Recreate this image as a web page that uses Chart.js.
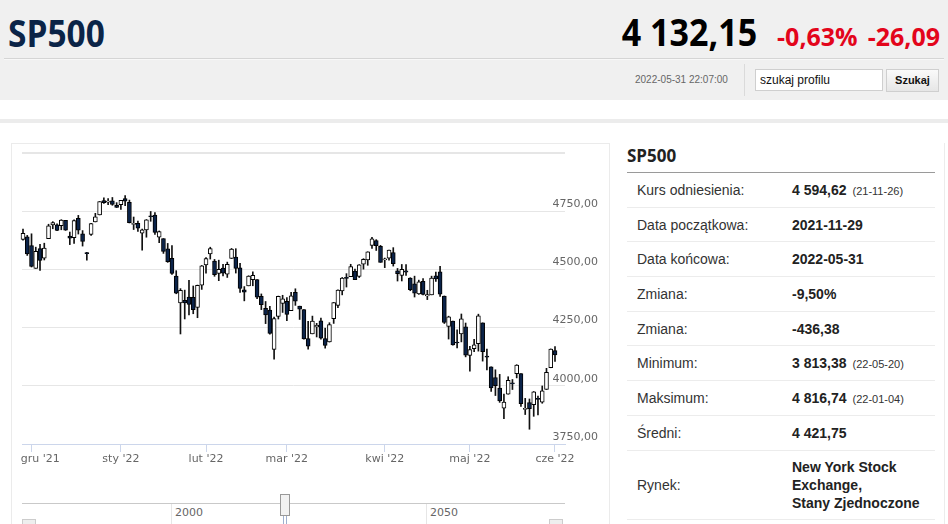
<!DOCTYPE html>
<html lang="pl">
<head>
<meta charset="utf-8">
<script src="https://cdn.jsdelivr.net/npm/chart.js@4.4.1/dist/chart.umd.min.js"></script>
<style>
  html, body { margin: 0; padding: 0; }
  body { width: 948px; height: 524px; overflow: hidden; position: relative; background: #fff;
         font-family: "Liberation Sans", Arial, sans-serif; }
  .abs { position: absolute; }
  #top { left: 0; top: 0; width: 948px; height: 100px; background: #f0f0f0; }
  #name { left: 8px; top: 6px; font: bold 38px "Open Sans", sans-serif; color: #0b2447;
          transform: scaleX(0.88); transform-origin: left center; white-space: nowrap; }
  #quote { right: 8px; top: 6px; white-space: nowrap; height: 50px; }
  #quote span { display: inline-block; font-family: "Open Sans", sans-serif; font-weight: bold; vertical-align: baseline; }
  #price { font-size: 37px; color: #000; transform: scaleX(0.92); transform-origin: right center; margin-right: 10px; }
  .red { color: #e3051b; font-size: 25px; margin-left: 10px; }
  #hline { left: 4px; top: 58px; width: 940px; height: 1px; background: #d5d5d5; border-bottom: 1px solid #f8f8f8; }
  #stamp { left: 635px; top: 74px; font-size: 10px; color: #666; }
  #vsep { left: 744px; top: 64px; width: 1px; height: 32px; background: #dadada; }
  #search { left: 755px; top: 69px; width: 122px; height: 20px; background: #fff; border: 1px solid #cfcfcf;
            font-size: 12px; line-height: 20px; padding-left: 4px; color: #111; box-sizing: content-box; }
  #btn { left: 886px; top: 69px; width: 51px; height: 21px; border: 1px solid #cfcfcf;
         background: linear-gradient(#fafafa, #e6e6e6); font-size: 11px; font-weight: bold; line-height: 21px;
         text-align: center; color: #111; }
  #band { left: 0; top: 119px; width: 948px; height: 4px; background: #ececec; }
  #box { left: 11px; top: 143px; width: 597px; height: 400px; border: 1px solid #ebebeb; }
  #wrap { left: 12px; top: 150px; width: 596px; height: 320px; }
  #navline { left: 22px; top: 503px; width: 543px; height: 1px; background: #c9c9c9; }
  .navv { top: 504px; width: 1px; height: 20px; background: #e6e6e6; }
  .navlab { top: 506px; font: 11px "DejaVu Sans", sans-serif; color: #666; }
  #handleL { left: 283px; top: 494px; width: 1px; height: 30px; background: #9fb0cf; }
  #handleR { left: 286px; top: 494px; width: 1px; height: 30px; background: #9fb0cf; }
  #grip { left: 280px; top: 494px; width: 8px; height: 20px; background: #f2f2f2; border: 1px solid #999; }
  .scr { top: 519px; width: 12px; height: 8px; background: #eee; border: 1px solid #ccc; }
  #side { left: 612px; top: 143px; width: 332px; height: 400px; border-right: 1px solid #ececec; }
  #sideTitle { left: 627px; top: 144px; font: bold 17px "Open Sans", sans-serif; color: #222; }
  #sideLine { left: 627px; top: 172px; width: 308px; height: 1px; background: #9a9a9a; }
  #tbl { left: 627px; top: 173px; width: 308px; border-collapse: collapse; }
  #tbl td { border-bottom: 1px solid #ececec; height: 33.7px; padding: 0; font-size: 14px; color: #333; vertical-align: middle; }
  #tbl td.l { padding-left: 10px; width: 155px; }
  #tbl td.v { font-weight: bold; color: #222; }
  #tbl td.v small { font-weight: normal; font-size: 11px; color: #333; margin-left: 6px; }
  #tbl tr.tall td { height: 68px; line-height: 18px; }
</style>
</head>
<body>
<div id="top" class="abs"></div>
<div id="name" class="abs">SP500</div>
<div id="quote" class="abs"><span id="price">4 132,15</span><span class="red">-0,63%</span><span class="red">-26,09</span></div>
<div id="hline" class="abs"></div>
<div id="stamp" class="abs">2022-05-31 22:07:00</div>
<div id="vsep" class="abs"></div>
<div id="search" class="abs">szukaj profilu</div>
<div id="btn" class="abs">Szukaj</div>
<div id="band" class="abs"></div>

<div id="box" class="abs"></div>
<div id="wrap" class="abs"><canvas id="sp500Chart" width="596" height="320"></canvas></div>

<div id="navline" class="abs"></div>
<div class="abs navv" style="left:171px"></div>
<div class="abs navv" style="left:426px"></div>
<div class="abs navlab" style="left:175px">2000</div>
<div class="abs navlab" style="left:430px">2050</div>
<div id="handleL" class="abs"></div>
<div id="handleR" class="abs"></div>
<div id="grip" class="abs"></div>
<div class="abs scr" style="left:22px"></div>
<div class="abs scr" style="left:549px"></div>

<div id="side" class="abs"></div>
<div id="sideTitle" class="abs">SP500</div>
<div id="sideLine" class="abs"></div>
<table id="tbl" class="abs">
  <tr><td class="l">Kurs odniesienia:</td><td class="v">4 594,62<small>(21-11-26)</small></td></tr>
  <tr><td class="l">Data początkowa:</td><td class="v">2021-11-29</td></tr>
  <tr><td class="l">Data końcowa:</td><td class="v">2022-05-31</td></tr>
  <tr><td class="l">Zmiana:</td><td class="v">-9,50%</td></tr>
  <tr><td class="l">Zmiana:</td><td class="v">-436,38</td></tr>
  <tr><td class="l">Minimum:</td><td class="v">3 813,38<small>(22-05-20)</small></td></tr>
  <tr><td class="l">Maksimum:</td><td class="v">4 816,74<small>(22-01-04)</small></td></tr>
  <tr><td class="l">Średni:</td><td class="v">4 421,75</td></tr>
  <tr class="tall"><td class="l">Rynek:</td><td class="v">New York Stock<br>Exchange,<br>Stany Zjednoczone</td></tr>
</table>

<script>
// sesje (jedna świeca = jedna sesja)
const dates = [
  '2021-11-29','2021-11-30',
  '2021-12-01','2021-12-02','2021-12-03','2021-12-06','2021-12-07','2021-12-08','2021-12-09','2021-12-10',
  '2021-12-13','2021-12-14','2021-12-15','2021-12-16','2021-12-17','2021-12-20','2021-12-22','2021-12-23',
  '2021-12-27','2021-12-28','2021-12-29','2021-12-30','2021-12-31',
  '2022-01-03','2022-01-04','2022-01-05','2022-01-06','2022-01-07','2022-01-10','2022-01-11','2022-01-12',
  '2022-01-13','2022-01-14','2022-01-18','2022-01-19','2022-01-20','2022-01-21','2022-01-24','2022-01-25',
  '2022-01-26','2022-01-27','2022-01-28','2022-01-31',
  '2022-02-01','2022-02-02','2022-02-03','2022-02-04','2022-02-07','2022-02-08','2022-02-09','2022-02-10',
  '2022-02-11','2022-02-14','2022-02-15','2022-02-16','2022-02-17','2022-02-18','2022-02-22','2022-02-23',
  '2022-02-24','2022-02-25','2022-02-28',
  '2022-03-01','2022-03-02','2022-03-03','2022-03-04','2022-03-07','2022-03-08','2022-03-09','2022-03-10',
  '2022-03-11','2022-03-14','2022-03-15','2022-03-16','2022-03-17','2022-03-18','2022-03-21','2022-03-22',
  '2022-03-23','2022-03-24','2022-03-25','2022-03-28','2022-03-29','2022-03-30','2022-03-31',
  '2022-04-01','2022-04-04','2022-04-05','2022-04-06','2022-04-07','2022-04-08','2022-04-11','2022-04-12',
  '2022-04-13','2022-04-14','2022-04-18','2022-04-19','2022-04-20','2022-04-21','2022-04-22','2022-04-25',
  '2022-04-26','2022-04-27','2022-04-28','2022-04-29',
  '2022-05-02','2022-05-03','2022-05-04','2022-05-05','2022-05-06','2022-05-09','2022-05-10','2022-05-11',
  '2022-05-12','2022-05-13','2022-05-16','2022-05-17','2022-05-18','2022-05-19','2022-05-20','2022-05-23',
  '2022-05-24','2022-05-25','2022-05-26','2022-05-27','2022-05-31'
];
const open = [
  4628.75,4640.25,
  4602.82,4504.73,4589.49,4548.37,4631.97,4690.86,4691.00,4687.64,
  4710.30,4642.99,4636.46,4719.13,4652.50,4572.00,4650.36,4703.96,
  4733.99,4795.49,4788.64,4794.23,4775.21,
  4778.14,4804.51,4787.99,4693.39,4697.66,4655.34,4669.14,4728.59,
  4733.56,4637.99,4632.24,4588.03,4547.35,4471.38,4356.32,4366.64,
  4380.58,4380.50,4336.19,4431.79,
  4519.57,4566.39,4535.41,4482.79,4505.75,4480.02,4547.00,4553.24,
  4506.27,4412.61,4429.28,4455.75,4456.06,4384.57,4332.74,4324.93,
  4155.77,4298.38,4354.17,
  4363.14,4322.56,4401.31,4342.12,4327.01,4202.66,4223.10,4252.55,
  4279.50,4202.75,4188.82,4288.14,4345.11,4407.34,4462.40,4469.10,
  4493.10,4469.98,4522.91,4541.09,4602.86,4624.20,4599.02,
  4540.32,4547.97,4572.45,4494.17,4474.65,4494.15,4462.64,4437.59,
  4394.30,4449.12,4385.63,4390.63,4472.26,4489.17,4385.83,4255.34,
  4278.14,4186.52,4222.58,4253.75,
  4130.61,4159.78,4181.18,4270.43,4128.17,4081.27,4035.18,3990.08,
  3903.95,3963.90,4013.02,4052.00,4051.98,3899.00,3927.76,3919.42,
  3942.94,3929.59,3984.60,4077.43,4151.09
];
const high = [
  4672.95,4646.02,
  4652.94,4595.46,4608.03,4612.60,4694.04,4705.06,4695.26,4713.57,
  4710.30,4660.47,4712.60,4731.99,4666.70,4573.50,4697.67,4740.74,
  4791.49,4807.02,4804.06,4808.93,4786.83,
  4796.64,4816.74,4797.70,4725.01,4707.95,4673.02,4714.13,4748.83,
  4744.13,4665.13,4632.24,4611.55,4602.11,4494.52,4417.35,4411.01,
  4453.23,4428.74,4432.72,4516.89,
  4550.49,4595.31,4542.88,4539.66,4521.86,4531.32,4590.03,4588.92,
  4526.33,4426.22,4472.77,4489.55,4456.06,4394.60,4362.12,4341.51,
  4294.73,4385.34,4388.84,
  4378.45,4401.48,4416.78,4342.12,4327.01,4276.94,4299.40,4268.28,
  4291.01,4247.57,4271.05,4357.86,4412.67,4465.40,4481.75,4522.00,
  4501.07,4520.58,4546.03,4575.65,4637.30,4627.77,4603.07,
  4548.70,4583.50,4593.45,4503.94,4521.16,4520.41,4464.35,4471.00,
  4453.92,4460.46,4410.31,4471.03,4488.29,4512.94,4385.83,4299.02,
  4278.14,4240.71,4308.45,4269.68,
  4169.81,4200.10,4307.66,4270.43,4157.69,4081.27,4068.82,4049.09,
  3964.80,4038.88,4026.97,4090.72,4051.98,3945.96,3943.42,3975.45,
  3955.68,3999.33,4075.14,4158.49,4168.34
];
const low = [
  4625.26,4560.00,
  4510.27,4504.73,4495.12,4540.51,4631.97,4674.52,4665.98,4670.24,
  4667.60,4606.52,4611.22,4651.89,4600.22,4540.00,4645.53,4703.96,
  4733.99,4782.94,4778.08,4775.33,4765.75,
  4758.17,4774.27,4699.44,4671.26,4662.74,4582.24,4638.27,4706.71,
  4650.29,4614.75,4568.70,4530.20,4477.95,4395.34,4222.62,4287.11,
  4304.80,4309.50,4292.46,4414.02,
  4483.53,4544.32,4470.39,4451.50,4471.47,4465.40,4547.00,4484.31,
  4401.41,4364.84,4429.28,4429.68,4373.81,4327.22,4267.11,4221.51,
  4114.65,4286.83,4315.12,
  4279.54,4322.56,4345.56,4284.98,4199.85,4157.87,4223.10,4209.80,
  4200.49,4161.72,4187.90,4267.92,4335.65,4390.57,4424.30,4469.10,
  4455.81,4465.17,4501.07,4517.69,4589.66,4581.32,4530.41,
  4507.57,4539.21,4514.17,4450.04,4450.30,4474.60,4408.38,4381.34,
  4392.70,4390.77,4370.30,4390.63,4448.76,4384.47,4267.62,4200.82,
  4175.04,4162.90,4188.63,4124.28,
  4062.51,4147.08,4148.91,4106.01,4067.91,3975.48,3958.17,3928.82,
  3858.87,3963.90,3983.99,4033.93,3911.91,3876.58,3813.38,3868.91,
  3875.13,3925.03,3984.60,4077.43,4104.88
];
const close = [
  4655.27,4567.00,
  4513.04,4577.10,4538.43,4591.67,4686.75,4701.21,4667.45,4712.02,
  4668.97,4634.09,4709.85,4668.67,4620.64,4568.02,4696.56,4725.79,
  4791.19,4786.35,4793.06,4778.73,4766.18,
  4796.56,4793.54,4700.58,4696.05,4677.03,4670.29,4713.07,4726.35,
  4659.03,4662.85,4577.11,4532.76,4482.73,4397.94,4410.13,4356.45,
  4349.93,4326.51,4431.85,4515.55,
  4546.54,4589.38,4477.44,4500.53,4483.87,4521.54,4587.18,4504.08,
  4418.64,4401.67,4471.07,4475.01,4380.26,4348.87,4304.76,4225.50,
  4288.70,4384.65,4373.94,
  4306.26,4386.54,4363.49,4328.87,4201.09,4170.70,4277.88,4259.52,
  4204.31,4173.11,4262.45,4357.86,4411.67,4463.12,4461.18,4511.61,
  4456.24,4520.16,4543.06,4575.52,4631.60,4602.45,4530.41,
  4545.86,4582.64,4525.12,4481.15,4500.21,4488.28,4412.53,4397.45,
  4446.59,4392.59,4391.69,4462.21,4459.45,4393.66,4271.78,4296.12,
  4175.20,4183.96,4287.50,4131.93,
  4155.38,4175.48,4300.17,4146.87,4123.34,3991.24,4001.05,3935.18,
  3930.08,4023.89,4008.01,4088.85,3923.68,3900.79,3901.36,3973.75,
  3941.48,3978.73,4057.84,4158.24,4132.15
];

// podpisy osi
const monthLabels = ["gru '21", "sty '22", "lut '22", "mar '22", "kwi '22", "maj '22", "cze '22"];
const yTicks = [3750, 4000, 4250, 4500, 4750, 5000];

// indeksy pierwszej sesji miesiąca (+ ostatnia sesja dla czerwca)
const monthIdx = [];
for (let i = 1; i < dates.length; i++) {
    if (dates[i].slice(5, 7) !== dates[i - 1].slice(5, 7)) monthIdx.push(i);
}
monthIdx.push(dates.length - 1);

const navy = '#0b2349';

const bodies = dates.map((d, i) => ({ x: i, y: [open[i], close[i]] }));
const wicks = dates.map((d, i) => ({ x: i, y: [low[i], high[i]] }));

const ctx = document.getElementById('sp500Chart').getContext('2d');
window.spChart = new Chart(ctx, {
    type: 'bar',
    data: {
        datasets: [{
            label: 'korpus',
            data: bodies,
            grouped: false,
            barThickness: 4,
            minBarLength: 1,
            borderWidth: 1,
            borderColor: '#000',
            borderSkipped: false,
            backgroundColor: (c) => close[c.dataIndex] < open[c.dataIndex] ? navy : '#ffffff',
            clip: false
        }, {
            label: 'cień',
            data: wicks,
            grouped: false,
            barThickness: 1,
            borderWidth: 0,
            backgroundColor: '#111',
            clip: false
        }]
    },
    options: {
        responsive: false,
        animation: false,
        layout: { padding: { left: 10, right: 10, top: 3, bottom: 0 } },
        plugins: { legend: { display: false }, tooltip: { enabled: false } },
        scales: {
            x: {
                type: 'linear',
                offset: false,
                min: -0.235,
                max: 127.35,
                afterBuildTicks: (scale) => { scale.ticks = monthIdx.map(v => ({ value: v })); },
                afterFit: (scale) => { scale.height = 26; scale.paddingLeft = 0; scale.paddingRight = 0; },
                ticks: {
                    autoSkip: false,
                    maxRotation: 0,
                    padding: 1,
                    color: '#666',
                    font: { family: 'DejaVu Sans', size: 11 },
                    callback: (v) => {
                        const k = monthIdx.indexOf(v);
                        if (k < 0) return '';
                        return k === 0 ? '     ' + monthLabels[k] : monthLabels[k];
                    }
                },
                grid: { offset: false, drawOnChartArea: false, tickLength: 8, tickColor: '#ccd6eb' },
                border: { color: '#ccd6eb' }
            },
            y: {
                position: 'right',
                min: 3750,
                max: 5000,
                afterBuildTicks: (scale) => { scale.ticks = yTicks.map(v => ({ value: v })); },
                afterFit: (scale) => { scale.width = 33; scale.paddingTop = 0; scale.paddingBottom = 0; },
                ticks: {
                    mirror: true,
                    padding: 33,
                    labelOffset: -7,
                    color: '#666',
                    font: { family: 'DejaVu Sans', size: 11 },
                    callback: (v) => v === 5000 ? '' : v.toFixed(2).replace('.', ',')
                },
                grid: {
                    drawTicks: false,
                    color: '#e6e6e6',
                    lineWidth: (c) => c.tick && c.tick.value === 5000 ? 2 : 1
                },
                border: { display: false }
            }
        }
    }
});
</script>
</body>
</html>
